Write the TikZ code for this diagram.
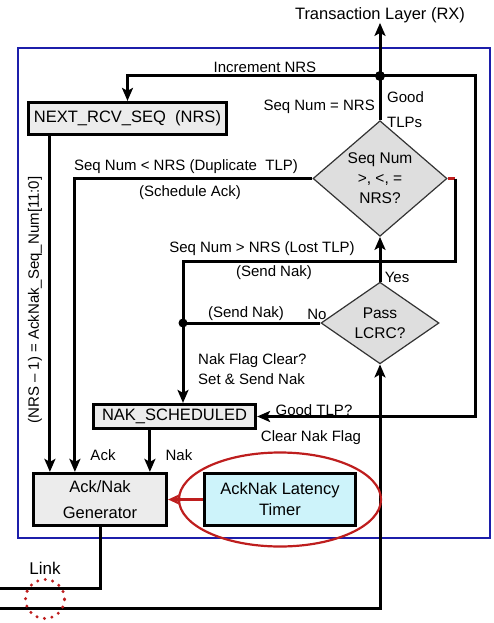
\documentclass[tikz,border=0pt]{standalone}
\usepackage{fontspec}
\setmainfont{Liberation Sans}
\usetikzlibrary{shapes.geometric,arrows.meta}
\definecolor{figBlue}{RGB}{28,30,170}
\definecolor{figRed}{RGB}{190,30,30}
\definecolor{figGray}{RGB}{236,236,236}
\definecolor{figDia}{RGB}{222,222,222}
\definecolor{figCyan}{RGB}{205,243,250}

\begin{document}
\begin{tikzpicture}[x=1pt,y=-1pt,>={Stealth[length=13pt,width=11pt,inset=3pt]},
  lbl/.style={font=\fontsize{15}{18}\selectfont,inner sep=0pt},
  blk/.style={draw,line width=3.2pt,fill=figGray,inner sep=0pt,align=center,font=\fontsize{16.5}{21}\selectfont},
  dia/.style={diamond,draw=black!80,line width=1.2pt,fill=figDia,inner sep=0pt,align=center,font=\fontsize{15.5}{20}\selectfont},
  wire/.style={line width=3pt}]
\useasboundingbox (0,0) rectangle (493,623);
\draw[figBlue,line width=2pt] (18,48) rectangle (490,538);

% boxes and decisions
\node[lbl,font=\fontsize{16.5}{20}\selectfont] (tl) at (380,15) {Transaction Layer (RX)};
\node[blk,minimum width=198pt,minimum height=32pt] (nrs) at (127.5,118.5) {NEXT\_RCV\_SEQ\ \ (NRS)};
\node[dia,minimum width=134pt,minimum height=101pt] (seq) at (380,178.5) {Seq Num\\>, <, =\\NRS?};
\node[dia,minimum width=118pt,minimum height=60pt] (lcrc) at (380,323) {Pass\\LCRC?};
\node[blk,minimum width=162pt,minimum height=24pt] (nak) at (174.5,416.5) {NAK\_SCHEDULED};
\node[blk,minimum width=133pt,minimum height=52pt,font=\fontsize{16.5}{26}\selectfont] (gen) at (100,499.5) {Ack/Nak\\Generator};
\node[blk,fill=figCyan,minimum width=151pt,minimum height=52pt] (timer) at (280,499.5) {AckNak Latency\\Timer};

\coordinate (jn) at (380,76);
\coordinate (rt) at (475,76);
\coordinate (sr) at (455,178.5);
\coordinate (lost) at (183,261);
\coordinate (nd) at (183,323);
\coordinate (inp) at (0,608);
\coordinate (outp) at (0,588);

% connections
\draw[wire,->] (seq.north) -- (tl.south);
\draw[wire,->] (jn) -| (nrs.north);
\draw[wire,->] (jn) -- (rt) |- (nak.east);
\draw[wire,->] (seq.west) -| ([xshift=43pt]gen.north west);
\draw[wire,->] ([xshift=23pt]nrs.south west) -- ([xshift=18pt]gen.north west);
\draw[wire,figRed] (seq.east) -- (sr);
\draw[wire,->] (sr) |- (lost) -- (lost |- nak.north);
\draw[wire] (lcrc.west) -- (nd);
\draw[wire,->] (lcrc.north) -- (seq.south);
\draw[wire,->] (inp) -| (lcrc.south);
\draw[wire] (gen.south) |- (outp);
\draw[wire,->] ([xshift=58pt]nak.south west) -- ([xshift=118pt]gen.north west);
\draw[line width=2.2pt,figRed,-{Stealth[length=11pt,width=10pt,inset=2.5pt]}] (timer.west) -- (gen.east);
\fill (jn) circle (5pt);
\fill (nd) circle (4.5pt);
\draw[figRed,line width=2.2pt] (timer.center) ellipse [x radius=101pt,y radius=47pt];
\draw[figRed,line width=3.3pt,dash pattern=on 0pt off 7.6pt,line cap=round] (45,599) circle [radius=19.5pt];

% labels
\node[lbl] (incl) at (265,67) {Increment\ NRS};
\node[lbl,anchor=east] (eql) at (375,107) {Seq Num = NRS};
\node[lbl,anchor=west,align=left,font=\fontsize{15}{25}\selectfont] (goodl) at (387,110) {Good\\TLPs};
\node[lbl] (dupl) at (186,167) {Seq Num < NRS (Duplicate\ \ TLP)};
\node[lbl] (schl) at (190,193) {(Schedule\ Ack)};
\node[lbl] (lostl) at (262,249) {Seq Num > NRS (Lost TLP)};
\node[lbl] (snk1) at (274,273) {(Send Nak)};
\node[lbl] (yesl) at (397,277) {Yes};
\node[lbl] (snk2) at (246,314) {(Send Nak)};
\node[lbl] (nol) at (317,314) {No};
\node[lbl,anchor=west,align=left,font=\fontsize{15}{20}\selectfont] (flagl) at (198,369) {Nak Flag Clear?\\Set \& Send Nak};
\node[lbl] (gtl) at (314,410) {Good TLP?};
\node[lbl] (clrl) at (311,438) {Clear Nak Flag};
\node[lbl] (ackl) at (103,455) {Ack};
\node[lbl] (nakl) at (179,455) {Nak};
\node[lbl,rotate=90] (seql) at (35,300) {(NRS -- 1) = AckNak\_Seq\_Num[11:0]};
\node[lbl,font=\fontsize{17}{20}\selectfont] (link) at (45,568) {Link};
\end{tikzpicture}
\end{document}
